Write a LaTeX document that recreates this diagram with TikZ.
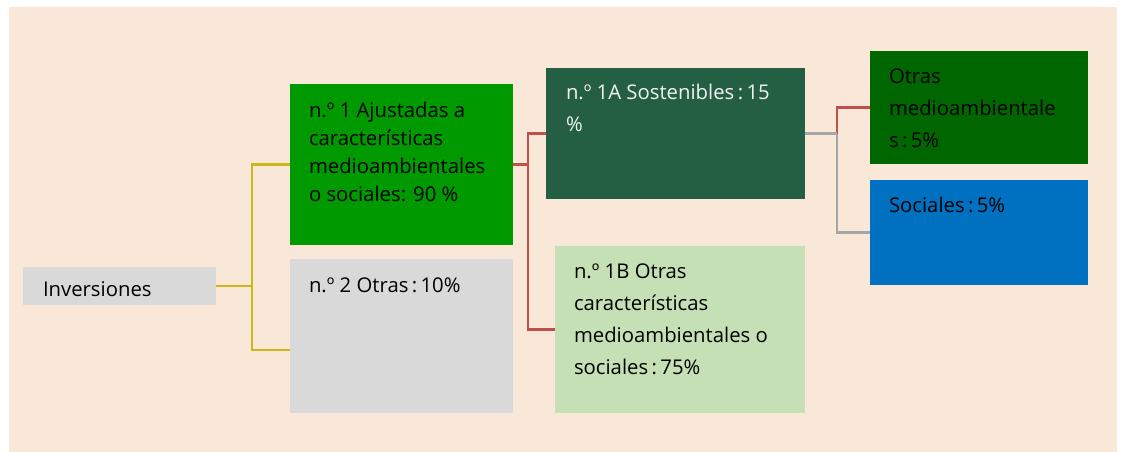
\documentclass[tikz,border=0pt]{standalone}
\usepackage{fontspec}
\setmainfont{Open Sans}
\usetikzlibrary{calc}
\definecolor{bgc}{HTML}{F9E8D7}
\definecolor{gA}{HTML}{009900}
\definecolor{grB}{HTML}{D9D9D9}
\definecolor{dA}{HTML}{245F43}
\definecolor{lB}{HTML}{C5E0B4}
\definecolor{oG}{HTML}{006600}
\definecolor{sB}{HTML}{0070C0}
\definecolor{lnY}{HTML}{C9B81C}
\definecolor{lnR}{HTML}{C0504D}
\definecolor{lnG}{HTML}{A6A6A6}
\definecolor{txW}{HTML}{F2F2F2}
\tikzset{
  box/.style={draw=none, inner sep=0pt, outer sep=0pt, anchor=north west},
  txt/.style={inner sep=0pt, outer sep=0pt, anchor=base west, align=left, text=black},
  f18/.style={font=\fontsize{20.3}{32}\selectfont},
  f18t/.style={font=\fontsize{20.3}{27.7}\selectfont},
  conn/.style={line width=2.4pt},
}
\begin{document}
\begin{tikzpicture}[x=1pt,y=-1pt]
\useasboundingbox (0,0) rectangle (1122,452);
\fill[bgc] (9,7) rectangle (1117,452);
% boxes
\node[box, fill=grB, minimum width=193, minimum height=38] (inv) at (23,267) {};
\node[box, fill=gA, minimum width=223, minimum height=161] (b1) at (290,84) {};
\node[box, fill=grB, minimum width=223, minimum height=154] (b2) at (290,259) {};
\node[box, fill=dA, minimum width=259, minimum height=131] (a1) at (546,68) {};
\node[box, fill=lB, minimum width=250, minimum height=167] (b1b) at (555,246) {};
\node[box, fill=oG, minimum width=218, minimum height=113] (oth) at (870,51) {};
\node[box, fill=sB, minimum width=218, minimum height=105] (soc) at (870,180) {};
% texts (anchor = baseline of last line)
\node[txt, f18] (tinv) at ($(inv.north west)+(20,29)$) {Inversiones};
\node[txt, f18t] (tb1) at ($(b1.north west)+(19,117)$) {n.º 1 Ajustadas a\\características\\medioambientales\\o sociales: 90 \%};
\node[txt, f18] (tb2) at ($(b2.north west)+(19,33)$) {n.º 2 Otras\,:\,10\%};
\node[txt, f18, text=txW] (ta1) at ($(a1.north west)+(20,63)$) {n.º 1A Sostenibles\,:\,15\\\%};
\node[txt, f18] (tb1b) at ($(b1b.north west)+(19,128)$) {n.º 1B Otras\\características\\medioambientales o\\sociales\,:\,75\%};
\node[txt, f18] (toth) at ($(oth.north west)+(19,96)$) {Otras\\medioambientale\\s\,:\,5\%};
\node[txt, f18] (tsoc) at ($(soc.north west)+(19,32)$) {Sociales\,:\,5\%};
% connectors
\draw[conn, lnY] (inv.east) -- ++(36,0) coordinate (j1);
\draw[conn, lnY] (j1) |- (b1.west);
\draw[conn, lnY] (j1) |- ([yshift=-14pt]b2.west);
\draw[conn, lnR] (b1.east) -- ++(15,0) coordinate (j2);
\draw[conn, lnR] (j2) |- (a1.west);
\draw[conn, lnR] (j2) |- (b1b.west);
\coordinate (j3) at ($(a1.east)+(32,0)$);
\draw[conn, lnR] (j3) |- (oth.west);
\draw[conn, lnG] (a1.east) -- (j3);
\draw[conn, lnG] (j3) |- (soc.west);
\end{tikzpicture}
\end{document}
